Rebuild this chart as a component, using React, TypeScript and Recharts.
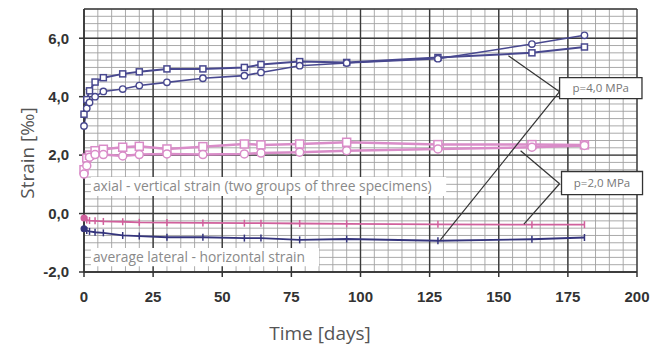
import React from "react";
import {
  Line,
  LineChart,
  ReferenceArea,
  ReferenceLine,
  XAxis,
  YAxis,
} from "recharts";

// measuring days
const days = [0, 1, 2, 4, 7, 14, 20, 30, 43, 58, 64, 78, 95, 128, 162, 181];

// axial strain, p = 4.0 MPa
const axialHighA = [3.4, 3.9, 4.2, 4.5, 4.65, 4.78, 4.85, 4.95, 4.95, 5.0, 5.1, 5.2, 5.17, 5.34, 5.5, 5.7];
const axialHighB = [3.0, 3.6, 3.8, 4.0, 4.18, 4.26, 4.38, 4.49, 4.63, 4.72, 4.83, 5.06, 5.15, 5.3, 5.8, 6.1];
// axial strain, p = 2.0 MPa
const axialLowA = [1.5, 1.9, 2.0, 2.15, 2.2, 2.27, 2.3, 2.21, 2.29, 2.38, 2.35, 2.38, 2.44, 2.36, 2.36, 2.35];
const axialLowB = [1.35, 1.64, 1.93, 2.02, 2.02, 1.97, 2.02, 2.04, 2.02, 2.04, 2.07, 2.1, 2.15, 2.21, 2.27, 2.33];
// average lateral strain
const lateralHigh = [-0.52, -0.58, -0.61, -0.64, -0.66, -0.75, -0.77, -0.81, -0.81, -0.84, -0.84, -0.9, -0.87, -0.93, -0.88, -0.82];
const lateralLow = [-0.15, -0.22, -0.24, -0.25, -0.27, -0.28, -0.3, -0.31, -0.32, -0.33, -0.33, -0.34, -0.35, -0.37, -0.38, -0.38];

const xTicks = [0, 25, 50, 75, 100, 125, 150, 175, 200];
const yTicks = [-2, 0, 2, 4, 6];
const yMajor = [-2, 0, 2, 4, 6, 7];
const xMinor = Array.from({ length: 41 }, (_, i) => i * 5);
const yMinor = Array.from({ length: 37 }, (_, i) => -2 + i * 0.25);

const data = days.map((t, i) => ({
  t,
  hA: axialHighA[i],
  hB: axialHighB[i],
  lA: axialLowA[i],
  lB: axialLowB[i],
  latH: lateralHigh[i],
  latL: lateralLow[i],
}));

const BLUE = "#48488f";
const PINK = "#d98cc8";
const PINK_DARK = "#d0609c";
const NAVY = "#34347c";

const tickStyle = { fontFamily: "Liberation Sans, Arial, sans-serif", fontWeight: 700, fontSize: 15, fill: "#333" };
const noteStyle = { fontFamily: "Open Sans, sans-serif", fontSize: 13.8, fill: "#8a8a8a" };
const boxText = { fontFamily: "Open Sans, sans-serif", fontSize: 11.5, fill: "#777" };

const squareDot = (color: string, s: number) => (p: any) => (
  <rect key={p.index} x={p.cx - s / 2} y={p.cy - s / 2} width={s} height={s} fill="#fff" stroke={color} strokeWidth={1.5} />
);

const barDot = (color: string) => (p: any) =>
  p.index === 0 ? (
    <circle key={p.index} cx={p.cx} cy={p.cy} r={3.5} fill={color} />
  ) : (
    <line key={p.index} x1={p.cx} x2={p.cx} y1={p.cy - 3.5} y2={p.cy + 3.5} stroke={color} strokeWidth={1.5} />
  );

export default function App() {
  return (
    <div style={{ position: "absolute", left: 0, top: 0, background: "#fff" }}>
      <LineChart width={658} height={346} data={data} margin={{ top: 9, right: 21, left: 0, bottom: 0 }}>
        {/* grid: fine lines every 5 days / 0.25 ‰, heavy lines at the ticks */}
        {xMinor.map((v) => (
          <ReferenceLine key={`xm${v}`} x={v} stroke="#a0a0a0" strokeWidth={0.9} zIndex={-60} />
        ))}
        {yMinor.map((v) => (
          <ReferenceLine key={`ym${v}`} y={v} stroke="#a0a0a0" strokeWidth={0.9} zIndex={-60} />
        ))}
        {xTicks.map((v) => (
          <ReferenceLine key={`xM${v}`} x={v} stroke="#3a3a3a" strokeWidth={1.4} zIndex={-55} />
        ))}
        {yMajor.map((v) => (
          <ReferenceLine key={`yM${v}`} y={v} stroke="#3a3a3a" strokeWidth={1.4} zIndex={-55} />
        ))}

        <XAxis
          dataKey="t"
          type="number"
          domain={[0, 200]}
          ticks={xTicks}
          height={74}
          tickSize={5}
          tickMargin={14}
          tick={tickStyle}
          axisLine={{ stroke: "#333", strokeWidth: 1.5 }}
          tickLine={{ stroke: "#333", strokeWidth: 1.5 }}
          label={{
            content: () => (
              <text x={320} y={340} textAnchor="middle" fontFamily="Open Sans, sans-serif" fontSize={19} fill="#555">
                Time [days]
              </text>
            ),
          }}
        />
        <YAxis
          type="number"
          domain={[-2, 7]}
          ticks={yTicks}
          width={84}
          tickSize={5}
          tickMargin={10}
          tick={tickStyle}
          tickFormatter={(v: number) => v.toFixed(1).replace(".", ",")}
          axisLine={{ stroke: "#333", strokeWidth: 1.5 }}
          tickLine={{ stroke: "#333", strokeWidth: 1.5 }}
          label={{
            content: () => (
              <text x={34} y={153} transform="rotate(-90 34 153)" textAnchor="middle" fontFamily="Open Sans, sans-serif" fontSize={19} fill="#555">
                Strain [‰]
              </text>
            ),
          }}
        />

        <ReferenceArea
          x1={2.5}
          x2={131}
          y1={0.6}
          y2={1.25}
          fill="#fff"
          fillOpacity={1}
          stroke="none"
          zIndex={50}
          label={{ value: "axial - vertical strain (two groups of three specimens)", position: "insideLeft", offset: 2, style: noteStyle }}
        />
        <ReferenceArea
          x1={2.5}
          x2={85}
          y1={-1.8}
          y2={-1.18}
          fill="#fff"
          fillOpacity={1}
          stroke="none"
          zIndex={50}
          label={{ value: "average lateral - horizontal strain", position: "insideLeft", offset: 2, style: noteStyle }}
        />

        <Line dataKey="lA" stroke={PINK} strokeWidth={2.5} dot={squareDot(PINK, 8)} isAnimationActive={false} />
        <Line dataKey="lB" stroke={PINK} strokeWidth={2.5} dot={{ r: 4, fill: "#fff", stroke: PINK, strokeWidth: 1.5 }} isAnimationActive={false} />
        <Line dataKey="latL" stroke={PINK_DARK} strokeWidth={1.8} dot={barDot(PINK_DARK)} isAnimationActive={false} />
        <Line dataKey="latH" stroke={NAVY} strokeWidth={1.8} dot={barDot(NAVY)} isAnimationActive={false} />
        <Line dataKey="hA" stroke={BLUE} strokeWidth={2} dot={squareDot(BLUE, 6)} isAnimationActive={false} />
        <Line dataKey="hB" stroke={BLUE} strokeWidth={1.6} dot={{ r: 3.2, fill: "#fff", stroke: BLUE, strokeWidth: 1.4 }} isAnimationActive={false} />

        {/* leader lines to the pressure boxes */}
        <ReferenceLine segment={[{ x: 153.5, y: 5.4 }, { x: 172, y: 4.17 }]} stroke="#333" strokeWidth={1.2} ifOverflow="visible" zIndex={450} />
        <ReferenceLine segment={[{ x: 128.9, y: -0.9 }, { x: 172, y: 4.17 }]} stroke="#333" strokeWidth={1.2} ifOverflow="visible" zIndex={450} />
        <ReferenceLine segment={[{ x: 157.9, y: 2.15 }, { x: 172, y: 1.02 }]} stroke="#333" strokeWidth={1.2} ifOverflow="visible" zIndex={450} />
        <ReferenceLine segment={[{ x: 159.1, y: -0.36 }, { x: 172, y: 1.02 }]} stroke="#333" strokeWidth={1.2} ifOverflow="visible" zIndex={450} />

        <ReferenceArea
          x1={172}
          x2={201.8}
          y1={3.93}
          y2={4.65}
          fill="#fff"
          fillOpacity={1}
          stroke="#333"
          strokeWidth={1.3}
          ifOverflow="visible"
          zIndex={460}
          label={{ value: "p=4,0 MPa", position: "center", style: boxText }}
        />
        <ReferenceArea
          x1={172.7}
          x2={202}
          y1={0.65}
          y2={1.44}
          fill="#fff"
          fillOpacity={1}
          stroke="#333"
          strokeWidth={1.3}
          ifOverflow="visible"
          zIndex={460}
          label={{ value: "p=2,0 MPa", position: "center", style: boxText }}
        />
      </LineChart>
    </div>
  );
}
